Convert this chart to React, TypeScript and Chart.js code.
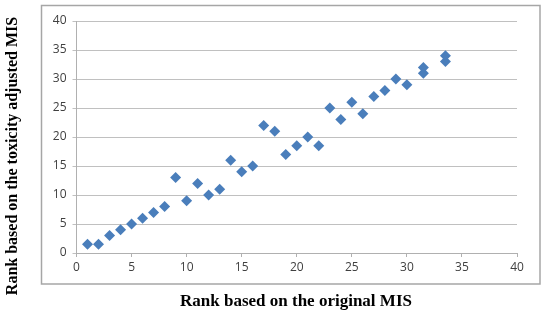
import React, { useEffect, useRef } from "react";
import { Chart, registerables } from "chart.js";

Chart.register(...registerables);

const originalRank = [1, 2, 3, 4, 5, 6, 7, 8, 9, 10, 11, 12, 13, 14, 15, 16, 17, 18, 19, 20, 21, 22, 23, 24, 25, 26, 27, 28, 29, 30, 31.5, 31.5, 33.5, 33.5];
const adjustedRank = [1.5, 1.5, 3, 4, 5, 6, 7, 8, 13, 9, 12, 10, 11, 16, 14, 15, 22, 21, 17, 18.5, 20, 18.5, 25, 23, 26, 24, 27, 28, 30, 29, 31, 32, 33, 34];
const xTitle = "Rank based on the original MIS";
const yTitle = "Rank based on the toxicity adjusted MIS";

const borderPlugin = {
  id: "outerBorder",
  beforeDraw(chart: any) {
    const ctx = chart.ctx;
    ctx.save();
    ctx.fillStyle = "#ffffff";
    ctx.fillRect(0, 0, chart.width, chart.height);
    ctx.strokeStyle = "#a6a6a6";
    ctx.lineWidth = 1.5;
    ctx.strokeRect(41.5, 5.5, 498.5, 278.5);
    ctx.restore();
  },
  afterDraw(chart: any) {
    const ctx = chart.ctx;
    ctx.save();
    ctx.fillStyle = "#000";
    ctx.textAlign = "center";
    ctx.textBaseline = "middle";
    ctx.font = "bold 17px 'Liberation Serif', serif";
    ctx.fillText(xTitle, 296, 302);
    ctx.translate(13, 156);
    ctx.rotate(-Math.PI / 2);
    ctx.font = "bold 16px 'Liberation Serif', serif";
    ctx.fillText(yTitle, 0, 0);
    ctx.restore();
  },
};

export default function App() {
  const ref = useRef<HTMLCanvasElement>(null);
  useEffect(() => {
    if (!ref.current) return;
    const tickFont = { family: "'Open Sans', sans-serif", size: 12 };
    const chart = new Chart(ref.current, {
      type: "scatter",
      data: {
        datasets: [
          {
            data: originalRank.map((x, i) => ({ x, y: adjustedRank[i] })),
            pointStyle: "rectRot",
            pointRadius: 5.5,
            backgroundColor: "#4a7ebb",
            borderColor: "#4a7ebb",
            borderWidth: 0,
          },
        ],
      },
      options: {
        animation: false,
        responsive: false,
        maintainAspectRatio: false,
        layout: { padding: { top: 21, right: 30, left: 0, bottom: 0 } },
        plugins: { legend: { display: false }, tooltip: { enabled: false } },
        scales: {
          x: {
            type: "linear",
            min: 0,
            max: 40,
            ticks: { stepSize: 5, color: "#404040", font: tickFont, padding: 3 },
            grid: { drawOnChartArea: false, drawTicks: true, tickLength: 4, color: "#b0b0b0" },
            border: { color: "#b0b0b0" },
            afterFit(scale: any) {
              scale.height = 65;
            },
          },
          y: {
            min: 0,
            max: 40,
            ticks: { stepSize: 5, color: "#404040", font: tickFont, padding: 6 },
            grid: { color: "#c0c0c0", tickLength: 4 },
            border: { color: "#b0b0b0" },
            afterFit(scale: any) {
              scale.width = 76.5;
            },
          },
        },
      },
      plugins: [borderPlugin],
    });
    return () => chart.destroy();
  }, []);
  return (
    <div style={{ position: "absolute", left: 0, top: 0, width: 547, height: 318 }}>
      <canvas ref={ref} width={547} height={318} />
    </div>
  );
}
